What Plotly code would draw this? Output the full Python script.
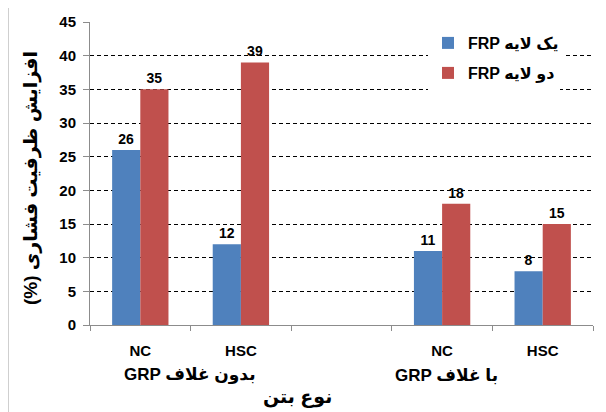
import plotly.graph_objects as go

categories = ["NC", "HSC", " ", "NC ", "HSC "]
tick_labels = ["NC", "HSC", "", "NC", "HSC"]
one_layer = [26, 12, None, 11, 8]
two_layer = [35, 39, None, 18, 15]
series_names = ["FRP یک لایه", "FRP دو لایه"]
group_labels = ["GRP بدون غلاف", "GRP با غلاف"]
y_ticks = [0, 5, 10, 15, 20, 25, 30, 35, 40, 45]

BLUE = "#4F81BD"
RED = "#C0504D"
FONT = "Liberation Sans, DejaVu Sans, Arial, sans-serif"

def labels(vals):
    return [("" if v is None else str(v)) for v in vals]

# page has an 8px body margin; lay out in page coordinates
OFF = 8
W, H = 606 - OFF, 412 - OFF
PL, PR, PT, PB = 90, 593, 22, 325   # plot area in page pixels
L, T = PL - OFF, PT - OFF
R = W - (PR - OFF)
B = H - (PB - OFF)
pw, ph = PR - PL, PB - PT

def px(x):
    return (x - PL) / pw

def py(y):
    return (PB - y) / ph

fig = go.Figure()
fig.add_trace(go.Bar(x=categories, y=one_layer, name=series_names[0],
                     marker=dict(color=BLUE, line=dict(width=0)),
                     text=labels(one_layer), textposition="outside",
                     textfont=dict(family=FONT, size=14, color="black", weight="bold"),
                     cliponaxis=False, legend="legend"))
fig.add_trace(go.Bar(x=categories, y=two_layer, name=series_names[1],
                     marker=dict(color=RED, line=dict(width=0)),
                     text=labels(two_layer), textposition="outside",
                     textfont=dict(family=FONT, size=14, color="black", weight="bold"),
                     cliponaxis=False, legend="legend2"))

legend_font = dict(family=FONT, size=16, color="black", weight="bold")
fig.update_layout(
    width=W, height=H,
    margin=dict(l=L, r=R, t=T, b=B, autoexpand=False),
    paper_bgcolor="white", plot_bgcolor="white",
    barmode="group", bargap=0.44, bargroupgap=0,
    font=dict(family=FONT, size=14, color="black"),
    showlegend=True,
    legend=dict(x=px(428), y=py(43), xanchor="left", yanchor="middle",
                bgcolor="white", font=legend_font, itemwidth=30),
    legend2=dict(x=px(428), y=py(73), xanchor="left", yanchor="middle",
                 bgcolor="white", font=legend_font, itemwidth=30),
)

fig.update_xaxes(
    type="category", categoryorder="array", categoryarray=categories,
    tickvals=categories, ticktext=tick_labels,
    tickson="boundaries", ticks="outside", ticklen=5, tickcolor="#8C8C8C",
    showline=True, linecolor="#8C8C8C", linewidth=1,
    showgrid=False, ticklabelstandoff=12,
    tickfont=dict(family=FONT, size=15, color="black", weight="bold"),
)
fig.update_yaxes(
    range=[0, 45], tickvals=y_ticks, ticks="outside", ticklen=6,
    tickcolor="#8C8C8C", showline=True, linecolor="#8C8C8C", linewidth=1,
    showgrid=True, gridcolor="black", griddash="4px,3px", gridwidth=1,
    zeroline=False, ticklabelstandoff=4,
    tickfont=dict(family=FONT, size=15, color="black", weight="bold"),
)

def note(text, x, y, size, angle=0):
    fig.add_annotation(text="<b>" + text + "</b>", textangle=angle,
                       x=px(x), y=py(y), xref="paper", yref="paper",
                       xanchor="center", yanchor="middle", showarrow=False,
                       font=dict(family=FONT, size=size, color="black"))

note("(%) افزایش ظرفیت فشاری", 31, 178, 19, angle=-90)
note(group_labels[0], 190, 375, 17)
note(group_labels[1], 446, 375, 17)
note("نوع بتن", 297, 397, 19)

fig.add_shape(type="rect", xref="paper", yref="paper",
              x0=px(8), x1=px(640), y0=py(440), y1=py(6),
              line=dict(color="#A0A0A0", width=1), layer="below")

fig.write_html("out.html")
